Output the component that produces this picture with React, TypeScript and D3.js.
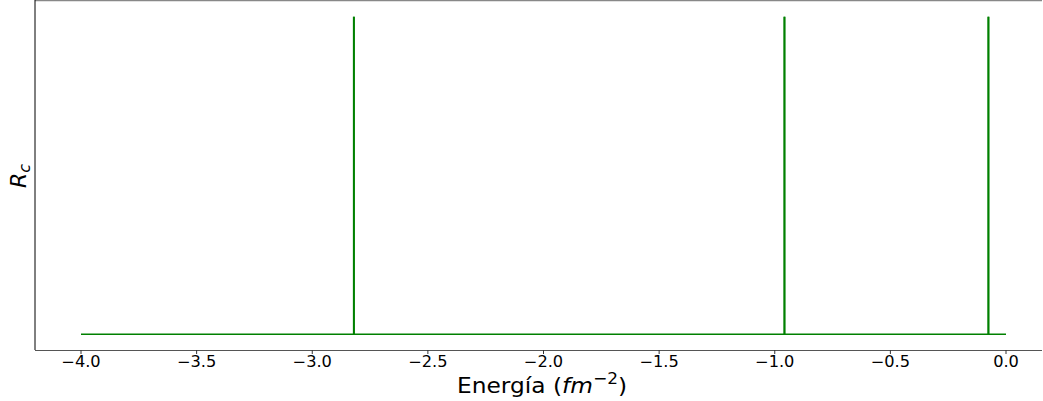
import React from 'react';
import * as d3 from 'd3';

// Energías de las resonancias (fm^-2) y alturas normalizadas de Rc
const peakEnergies = [-2.82, -0.958, -0.076];
const peakHeights = [1, 1, 1];
const energyRange = [-4.0, 0.0];
const baseValue = 0;
const xTicks = [-4.0, -3.5, -3.0, -2.5, -2.0, -1.5, -1.0, -0.5, 0.0];

const W = 1043, H = 401;
const plot = { left: 35, right: 1042, top: 1, bottom: 350 };

const App = () => {
  const x = d3.scaleLinear().domain([-4.0, 0.0]).range([81, 1006]);
  const y = d3.scaleLinear().domain([-0.05, 1.05]).range([plot.bottom, plot.top]);

  const pts: [number, number][] = [[energyRange[0], baseValue]];
  peakEnergies.forEach((e, i) => {
    pts.push([e, baseValue], [e, peakHeights[i]], [e, baseValue]);
  });
  pts.push([energyRange[1], baseValue]);

  const line = d3.line<[number, number]>().x(d => x(d[0])).y(d => y(d[1]));
  const fmt = (v: number) => v.toFixed(1).replace('-', '\u2212');
  const font = 'DejaVu Sans, sans-serif';

  return (
    <svg width={W} height={H} style={{ position: 'absolute', left: 0, top: 0 }}>
      <rect width={W} height={H} fill="white" />
      <path d={line(pts) || ''} fill="none" stroke="#008000" strokeWidth={1.5} />
      {peakEnergies.map((e, i) => (
        <line key={i} x1={x(e)} x2={x(e)} y1={y(baseValue)} y2={y(peakHeights[i])}
          stroke="#008000" strokeWidth={2} />
      ))}
      {/* spines */}
      <line x1={plot.left} x2={plot.right} y1={0.5} y2={0.5} stroke="#888" strokeWidth={1.5} />
      <line x1={plot.left} x2={plot.left} y1={0} y2={plot.bottom} stroke="#000" strokeWidth={1} />
      <line x1={plot.left} x2={plot.right} y1={plot.bottom + 0.5} y2={plot.bottom + 0.5} stroke="#555" strokeWidth={1} />
      {xTicks.map(t => (
        <g key={t} transform={`translate(${x(t)},${plot.bottom})`}>
          <line y1={0} y2={4} stroke="#333" strokeWidth={1} />
          <text transform="translate(0,17) scale(1.08,1)" textAnchor="middle" fontFamily={font} fontSize={15} fill="#000">{fmt(t)}</text>
        </g>
      ))}
      <text transform="translate(542,393) scale(1.06,1)" textAnchor="middle" fontFamily={font} fontSize={22} fill="#000">
        Energía (<tspan fontStyle="italic">fm</tspan><tspan dy={-9} fontSize={16}>{'\u22122'}</tspan><tspan dy={9}>)</tspan>
      </text>
      <text transform="translate(26,176) rotate(-90)" textAnchor="middle" fontFamily={font} fontSize={22} fill="#000">
        <tspan fontStyle="italic">R</tspan><tspan fontStyle="italic" fontSize={16} dy={4}>c</tspan>
      </text>
    </svg>
  );
};

export default App;
